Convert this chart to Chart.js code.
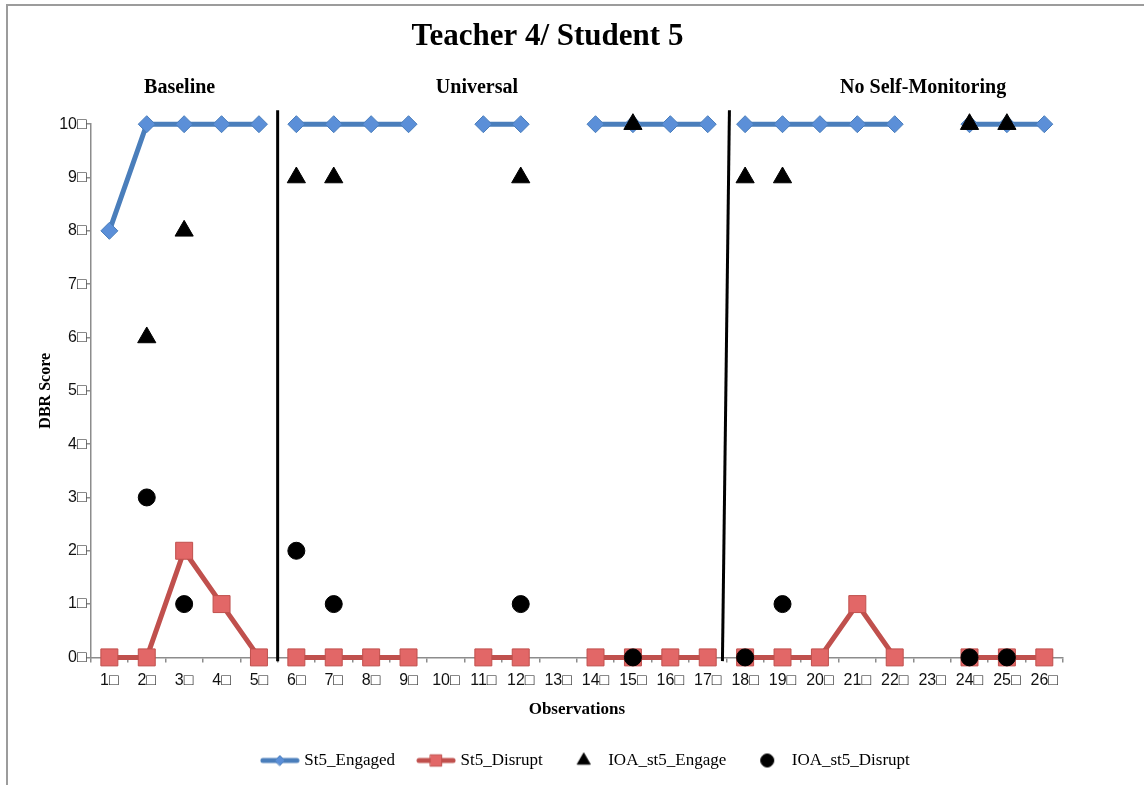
<!DOCTYPE html>
<html>
<head>
<meta charset="utf-8">
<script src="https://cdn.jsdelivr.net/npm/chart.js"></script>
<style>
  html, body { margin: 0; padding: 0; background: #fff; overflow: hidden; }
  #wrap { position: relative; width: 1144px; height: 785px; }
  #frame { position: absolute; left: 6px; top: 4px; width: 1300px; height: 1000px; border: 2px solid #9c9c9c; pointer-events: none; }
  canvas { position: absolute; left: 0; top: 0; }
</style>
</head>
<body>
<div id="wrap">
  <canvas id="chart" width="1144" height="785"></canvas>
  <div id="frame"></div>
</div>
<script>
const observations = ["1","2","3","4","5","6","7","8","9","10","11","12","13","14","15","16","17","18","19","20","21","22","23","24","25","26"];
const engaged    = [8,10,10,10,10, 10,10,10,10,null,10,10,null,10,10,10,10, 10,10,10,10,10,null,10,10,10];
const disrupt    = [0,0,2,1,0, 0,0,0,0,null,0,0,null,0,0,0,0, 0,0,0,1,0,null,0,0,0];
const ioaEngage  = [null,6,8,null,null, 9,9,null,null,null,null,9,null,null,10,null,null, 9,9,null,null,null,null,10,10,null];
const ioaDisrupt = [null,3,1,null,null, 2,1,null,null,null,null,1,null,null,0,null,null, 0,1,null,null,null,null,0,0,null];
const phaseNames = ["Baseline", "Universal", "No Self-Monitoring"];
const phaseBreaks = [4, 16]; // last index before each phase change
const yTicks = [0,1,2,3,4,5,6,7,8,9,10];
const seriesNames = ["St5_Engaged", "St5_Disrupt", "IOA_st5_Engage", "IOA_st5_Disrupt"];

const BLUE = "#4a7ebb", BLUE_PT = "#5b8fd8";
const RED = "#c0504d", RED_PT = "#e26767";
const GREY = "#8c8c8c";
const SERIF = "'Liberation Serif', 'Times New Roman', serif";
const SANS = "'Liberation Sans', Arial, sans-serif";
const BOX = "\u25A1";

const skipBreak = color => ctx => phaseBreaks.includes(ctx.p0DataIndex) ? "rgba(0,0,0,0)" : color;

// legend samples: short line plus marker
function makeIcon(lineColor, fill, border, style, radius) {
    const c = document.createElement("canvas");
    c.width = 40; c.height = 18;
    const g = c.getContext("2d");
    if (lineColor) {
        g.strokeStyle = lineColor;
        g.lineWidth = 5;
        g.lineCap = "round";
        g.beginPath(); g.moveTo(3, 9); g.lineTo(37, 9); g.stroke();
    }
    g.fillStyle = fill;
    g.strokeStyle = border;
    g.lineWidth = 1;
    Chart.helpers.drawPoint(g, { pointStyle: style, radius: radius, rotation: 0, borderWidth: 1 }, 20, 9);
    return c;
}
const icons = [
    makeIcon(BLUE, BLUE_PT, BLUE, "rectRot", 5),
    makeIcon(RED, RED_PT, RED, "rect", 8),
    makeIcon(null, "#000", "#000", "triangle", 7.5),
    makeIcon(null, "#000", "#000", "circle", 6.5)
];

const phasePlugin = {
    id: "phases",
    beforeDatasetsDraw(chart) {
        const { ctx } = chart;
        const xs = chart.scales.x, ys = chart.scales.y;
        const top = ys.getPixelForValue(10.26), bottom = ys.getPixelForValue(-0.07);
        ctx.save();
        ctx.strokeStyle = "#000";
        ctx.lineWidth = 3;
        const slant = [[0, 0], [3, -4]];
        phaseBreaks.forEach((b, i) => {
            const x = xs.getPixelForValue(b + 0.5);
            ctx.beginPath();
            ctx.moveTo(x + slant[i][0], top);
            ctx.lineTo(x + slant[i][1], bottom);
            ctx.stroke();
        });
        ctx.restore();
    },
    afterLayout(chart) {
        // nudge the legend a little right, as in the original
        chart.legend.left += 10;
        chart.legend.right += 10;
    },
    afterDraw(chart) {
        const { ctx } = chart;
        const xs = chart.scales.x;
        const centers = [1.88, 9.83, 21.76];
        ctx.save();
        ctx.fillStyle = "#000";
        ctx.font = "bold 20px " + SERIF;
        ctx.textAlign = "center";
        ctx.textBaseline = "middle";
        phaseNames.forEach((name, i) => {
            ctx.fillText(name, xs.getPixelForValue(centers[i]), chart.chartArea.top - 36);
        });
        ctx.restore();
    }
};

new Chart(document.getElementById("chart").getContext("2d"), {
    type: "line",
    data: {
        labels: observations,
        datasets: [
            {
                label: seriesNames[0],
                data: engaged,
                borderColor: BLUE,
                borderWidth: 5,
                pointStyle: "rectRot",
                pointRadius: 8.5,
                pointBackgroundColor: BLUE_PT,
                pointBorderColor: BLUE,
                pointBorderWidth: 1,
                segment: { borderColor: skipBreak(BLUE) },
                order: 3,
                clip: false
            },
            {
                label: seriesNames[1],
                data: disrupt,
                borderColor: RED,
                borderWidth: 5,
                pointStyle: "rect",
                pointRadius: 12,
                pointBackgroundColor: RED_PT,
                pointBorderColor: RED,
                pointBorderWidth: 1,
                segment: { borderColor: skipBreak(RED) },
                order: 2,
                clip: false
            },
            {
                label: seriesNames[2],
                data: ioaEngage,
                showLine: false,
                pointStyle: "triangle",
                pointRadius: 10.5,
                pointBackgroundColor: "#000",
                pointBorderColor: "#000",
                order: 1,
                clip: false
            },
            {
                label: seriesNames[3],
                data: ioaDisrupt,
                showLine: false,
                pointStyle: "circle",
                pointRadius: 8.5,
                pointBackgroundColor: "#000",
                pointBorderColor: "#000",
                order: 0,
                clip: false
            }
        ]
    },
    options: {
        responsive: false,
        animation: false,
        layout: { padding: { left: 32, right: 81, top: 0, bottom: 6 } },
        plugins: {
            title: {
                display: true,
                text: "Teacher 4/ Student 5",
                color: "#000",
                font: { family: SERIF, size: 31, weight: "bold" },
                padding: { top: 18, bottom: 69 }
            },
            legend: {
                position: "bottom",
                fullSize: false,
                labels: {
                    usePointStyle: true,
                    pointStyleWidth: 32,
                    boxHeight: 15,
                    padding: 25,
                    color: "#000",
                    font: { family: SERIF, size: 17 },
                    generateLabels: chart => chart.data.datasets.map((ds, i) => ({
                        text: ds.label,
                        pointStyle: icons[i],
                        fillStyle: "rgba(0,0,0,0)",
                        strokeStyle: "rgba(0,0,0,0)",
                        lineWidth: 0,
                        hidden: false,
                        datasetIndex: i
                    }))
                }
            },
            tooltip: { enabled: false }
        },
        scales: {
            x: {
                type: "category",
                offset: true,
                grid: { display: true, offset: true, drawOnChartArea: false, drawTicks: true, tickLength: 5, color: GREY, lineWidth: 1.5 },
                border: { display: true, color: GREY, width: 1.5 },
                ticks: {
                    autoSkip: false,
                    maxRotation: 0,
                    padding: 9,
                    color: "#111",
                    font: { family: SANS, size: 16 },
                    callback: (v, i) => observations[i] + BOX
                },
                title: {
                    display: true,
                    text: "Observations",
                    color: "#000",
                    font: { family: SERIF, size: 17, weight: "bold" },
                    padding: { top: 0, bottom: 7 }
                }
            },
            y: {
                min: 0,
                max: 10,
                afterBuildTicks: axis => { axis.ticks = yTicks.map(v => ({ value: v })); },
                grid: { display: true, drawOnChartArea: false, drawTicks: true, tickLength: 4, color: GREY, lineWidth: 1.5 },
                border: { display: true, color: GREY, width: 1.5 },
                ticks: {
                    padding: 0,
                    color: "#111",
                    font: { family: SANS, size: 16 },
                    callback: v => v + BOX
                },
                title: {
                    display: true,
                    text: "DBR Score",
                    color: "#000",
                    font: { family: SERIF, size: 16, weight: "bold" },
                    padding: { top: 4, bottom: 4 }
                }
            }
        }
    },
    plugins: [phasePlugin]
});
</script>
</body>
</html>
